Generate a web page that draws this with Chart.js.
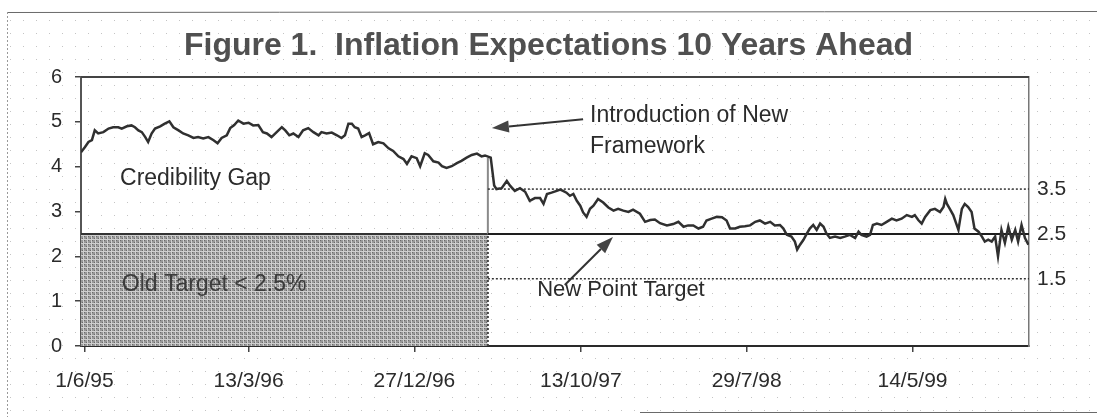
<!DOCTYPE html>
<html>
<head>
<meta charset="utf-8">
<title>Inflation Expectations 10 Years Ahead</title>
<script src="https://cdn.jsdelivr.net/npm/chart.js@4.4.1/dist/chart.umd.min.js"></script>
<style>
html,body{margin:0;padding:0;background:#fff;}
#wrap{width:1097px;height:417px;position:relative;}
</style>
</head>
<body>
<div id="wrap"><canvas id="infChart"></canvas></div>
<script>
// x values are days counted from 1 June 1995
let tickDays = [0,286,575,865,1154,1443]
let tickLabels = ['1/6/95','13/3/96','27/12/96','13/10/97','29/7/98','14/5/99']
let sideTicks = [1.5,2.5,3.5]
let days = [-6,1,7,13,18,24,33,42,50,59,65,74,82,88,94,100,106,111,117,123,132,140,148,155,164,172,181,190,198,207,216,225,232,239,248,254,261,268,277,286,294,303,311,318,326,335,344,350,357,364,373,381,390,399,408,
	413,422,431,440,448,454,460,466,471,477,483,489,496,503,512,521,530,538,547,556,562,570,579,585,593,599,608,617,623,631,640,649,657,666,675,684,692,698,708,714,718,727,736,742,750,759,768,776,785,794,
	800,806,814,823,829,834,840,846,852,858,864,869,875,881,887,895,904,913,922,930,939,948,956,968,977,986,994,1003,1015,1026,1035,1044,1052,1061,1070,1078,1084,1093,1102,1111,1119,1125,1134,1142,1151,1160,1169,1177,1186,1195,1203,
	1212,1218,1224,1232,1238,1242,1247,1253,1259,1264,1270,1276,1282,1288,1293,1299,1308,1317,1325,1334,1343,1349,1354,1363,1369,1374,1381,1389,1398,1407,1415,1424,1433,1442,1447,1453,1459,1465,1474,1482,1491,1497,1500,1503,1508,1514,1520,1523,1529,1534,1540,1546,1551,1558,1564,1569,1575,1581,1587,1592,1598,1604,1610,1616,1622,1627,1633,1639,1645]
let expect = [4.32,4.44,4.55,4.59,4.81,4.74,4.77,4.85,4.88,4.88,4.85,4.90,4.92,4.88,4.81,4.77,4.66,4.55,4.74,4.85,4.90,4.96,5.01,4.88,4.81,4.74,4.70,4.64,4.66,4.63,4.66,4.59,4.52,4.64,4.70,4.86,4.93,5.03,4.96,4.98,4.92,4.93,4.77,4.74,4.66,4.77,4.88,4.81,4.70,4.74,4.66,4.81,4.86,4.77,4.70,
	4.77,4.74,4.76,4.70,4.64,4.70,4.96,4.96,4.88,4.85,4.66,4.70,4.75,4.50,4.55,4.52,4.41,4.35,4.23,4.17,4.06,4.23,4.19,4.01,4.30,4.26,4.12,4.09,4.01,3.97,4.01,4.08,4.13,4.20,4.26,4.29,4.23,4.25,4.20,3.58,3.50,3.52,3.68,3.57,3.46,3.52,3.44,3.24,3.30,3.30,
	3.17,3.39,3.42,3.46,3.49,3.46,3.42,3.35,3.39,3.24,3.13,2.98,2.88,3.06,3.13,3.28,3.20,3.09,3.02,3.06,3.02,2.99,3.04,2.95,2.77,2.81,2.82,2.74,2.69,2.72,2.77,2.66,2.69,2.69,2.62,2.66,2.80,2.84,2.88,2.87,2.80,2.62,2.62,2.66,2.67,2.69,2.77,2.80,2.73,2.77,2.69,
	2.70,2.62,2.48,2.44,2.33,2.15,2.26,2.37,2.51,2.62,2.70,2.59,2.73,2.66,2.51,2.41,2.44,2.41,2.44,2.48,2.41,2.55,2.48,2.44,2.48,2.70,2.73,2.70,2.77,2.84,2.80,2.84,2.92,2.88,2.92,2.81,2.73,2.88,3.03,3.06,2.99,3.10,3.28,3.17,3.06,2.92,2.70,2.59,3.06,3.17,3.10,2.99,2.62,2.55,2.44,2.33,2.37,2.33,2.44,2.00,2.59,2.30,2.66,2.37,2.59,2.33,2.70,2.41,2.26]
let oldTarget = 2.5
let pointTarget = 2.5
let bandLow = 1.5
let bandHigh = 3.5
let breakDay = 703
let firstDay = -6
let lastDay = 1646

let fam = "'Liberation Sans', Arial, sans-serif"
let ink = '#2b2b2b'

let makeHatch=ctx=>{
	let c = document.createElement('canvas')
	c.width = 4; c.height = 4
	let g = c.getContext('2d')
	g.fillStyle = '#979797'
	g.fillRect(0,0,4,4)
	g.fillStyle = '#6a6a6a'
	g.fillRect(0,0,1,1)
	g.fillRect(2,2,1,1)
	g.fillStyle = '#cfcfcf'
	g.fillRect(0,3,4,1)
	g.fillRect(3,0,1,4)
	return ctx.createPattern(c,'repeat')
}

// paper, scan frame and dotted texture
let paper = {
	id:'paper',
	beforeDraw:chart=>{
		let c = chart.ctx
		c.save()
		c.fillStyle = '#fff'
		c.fillRect(0,0,chart.width,chart.height)
		c.fillStyle = '#c4c4c4'
		for(let x=10;x<chart.width;x+=13){
			for(let y=20;y<chart.height;y+=13){
				c.fillRect(x,y,1,1)
			}
		}
		c.strokeStyle = '#6a6a6a'
		c.lineWidth = 1
		c.beginPath()
		c.moveTo(7,12.5); c.lineTo(chart.width,11.5)
		c.moveTo(640,412.5); c.lineTo(chart.width,412.5)
		c.stroke()
		c.strokeStyle = '#999'
		c.setLineDash([2,2])
		c.beginPath()
		c.moveTo(7.5,12); c.lineTo(7.5,chart.height)
		c.stroke()
		c.restore()
	},
	beforeDatasetsDraw:chart=>{
		let c = chart.ctx, a = chart.chartArea
		c.save()
		c.strokeStyle = '#444'
		c.lineWidth = 2
		c.beginPath()
		c.moveTo(a.left,a.top); c.lineTo(a.right,a.top)
		c.stroke()
		c.restore()
	}
}

let notes = {
	id:'notes',
	afterDatasetsDraw:chart=>{
		let c = chart.ctx, sx = chart.scales.x, sy = chart.scales.y
		let px = (d,v)=>[sx.getPixelForValue(d), sy.getPixelForValue(v)]
		c.save()
		c.textBaseline = 'middle'
		c.textAlign = 'left'
		let texts = [
			['Credibility Gap',62,3.73,ink,23],
			['Introduction of New',881,5.13,ink,23],
			['Framework',881,4.44,ink,23],
			['New Point Target',789,1.25,ink,22],
			['Old Target < 2.5%',65,1.36,'#3c3c3c',23]
		]
		texts.forEach(t=>{
			let p = px(t[1],t[2])
			c.font = t[4]+'px '+fam
			c.fillStyle = t[3]
			c.fillText(t[0],p[0],p[1])
		})
		let arrow=(from,to)=>{
			let a = px(from[0],from[1]), b = px(to[0],to[1])
			let ang = Math.atan2(b[1]-a[1],b[0]-a[0])
			let len = 17, half = 6
			let bx = b[0]-len*Math.cos(ang), by = b[1]-len*Math.sin(ang)
			c.strokeStyle = '#333'
			c.lineWidth = 2
			c.beginPath()
			c.moveTo(a[0],a[1]); c.lineTo(bx,by)
			c.stroke()
			c.fillStyle = '#444'
			c.beginPath()
			c.moveTo(b[0],b[1])
			c.lineTo(bx+half*Math.sin(ang),by-half*Math.cos(ang))
			c.lineTo(bx-half*Math.sin(ang),by+half*Math.cos(ang))
			c.closePath()
			c.fill()
		}
		arrow([869,5.06],[710,4.86])
		arrow([837,1.36],[921,2.43])
		c.restore()
	}
}

let init=()=>{
	let ctx = document.getElementById('infChart').getContext('2d')
	let hatch = makeHatch(ctx)
	let series = days.map((d,i)=>({x:d,y:expect[i]}))
	let breakTop = expect[days.findIndex(d=>d>=breakDay)]
	let flat = {pointRadius:0, fill:false, tension:0}
	new Chart(ctx,{
		type:'line',
		data:{datasets:[
			Object.assign({label:'Expectations', data:series, borderColor:'#303030', borderWidth:2.5},flat),
			Object.assign({label:'Point target', data:[{x:breakDay,y:pointTarget},{x:lastDay,y:pointTarget}], borderColor:'#1e1e1e', borderWidth:2},flat),
			Object.assign({label:'Upper', data:[{x:breakDay,y:bandHigh},{x:lastDay,y:bandHigh}], borderColor:'#333', borderWidth:1.5, borderDash:[2,2]},flat),
			Object.assign({label:'Lower', data:[{x:breakDay,y:bandLow},{x:lastDay,y:bandLow}], borderColor:'#333', borderWidth:1.5, borderDash:[2,2]},flat),
			Object.assign({label:'Break', data:[{x:breakDay,y:oldTarget},{x:breakDay,y:breakTop}], borderColor:'#8a8a8a', borderWidth:2},flat),
			Object.assign({label:'Edge', data:[{x:breakDay,y:0},{x:breakDay,y:oldTarget}], borderColor:'#444', borderWidth:2, borderDash:[2,2]},flat),
			{label:'Old target', data:[{x:firstDay,y:oldTarget},{x:breakDay,y:oldTarget}], borderColor:'#333', borderWidth:2, backgroundColor:hatch, fill:'origin', pointRadius:0}
		]},
		options:{
			responsive:true,
			maintainAspectRatio:false,
			animation:false,
			devicePixelRatio:1,
			layout:{padding:0},
			plugins:{
				legend:{display:false},
				tooltip:{enabled:false},
				title:{display:true, text:'Figure 1.  Inflation Expectations 10 Years Ahead', color:'#505050',
					font:{family:fam, size:32, weight:'bold'}, padding:{top:27,bottom:11.6}}
			},
			scales:{
				x:{type:'linear', min:firstDay, max:lastDay,
					afterBuildTicks:s=>{s.ticks = tickDays.map(v=>({value:v}))},
					ticks:{callback:v=>{let i = tickDays.indexOf(v); return i<0?'':tickLabels[i]},
						autoSkip:false, maxRotation:0, padding:17, color:ink, font:{family:fam,size:21}},
					grid:{drawOnChartArea:false, drawTicks:true, tickLength:6, color:'#444', lineWidth:1.5},
					border:{color:'#2a2a2a', width:2},
					afterFit:s=>{s.height = 71}
				},
				y:{min:0, max:6,
					ticks:{stepSize:1, padding:13, color:ink, font:{family:fam,size:20}},
					grid:{drawOnChartArea:false, drawTicks:true, tickLength:6, color:'#444', lineWidth:1.5},
					border:{color:'#555', width:2},
					afterFit:s=>{s.width = 81}
				},
				y2:{position:'right', min:0, max:6,
					afterBuildTicks:s=>{s.ticks = sideTicks.map(v=>({value:v}))},
					ticks:{padding:8, color:ink, font:{family:fam,size:21}},
					grid:{drawOnChartArea:false, drawTicks:false},
					border:{color:'#777', width:1.5, dash:[2,2]},
					afterFit:s=>{s.width = 68}
				}
			}
		},
		plugins:[paper,notes]
	})
}
init()
</script>
</body>
</html>
